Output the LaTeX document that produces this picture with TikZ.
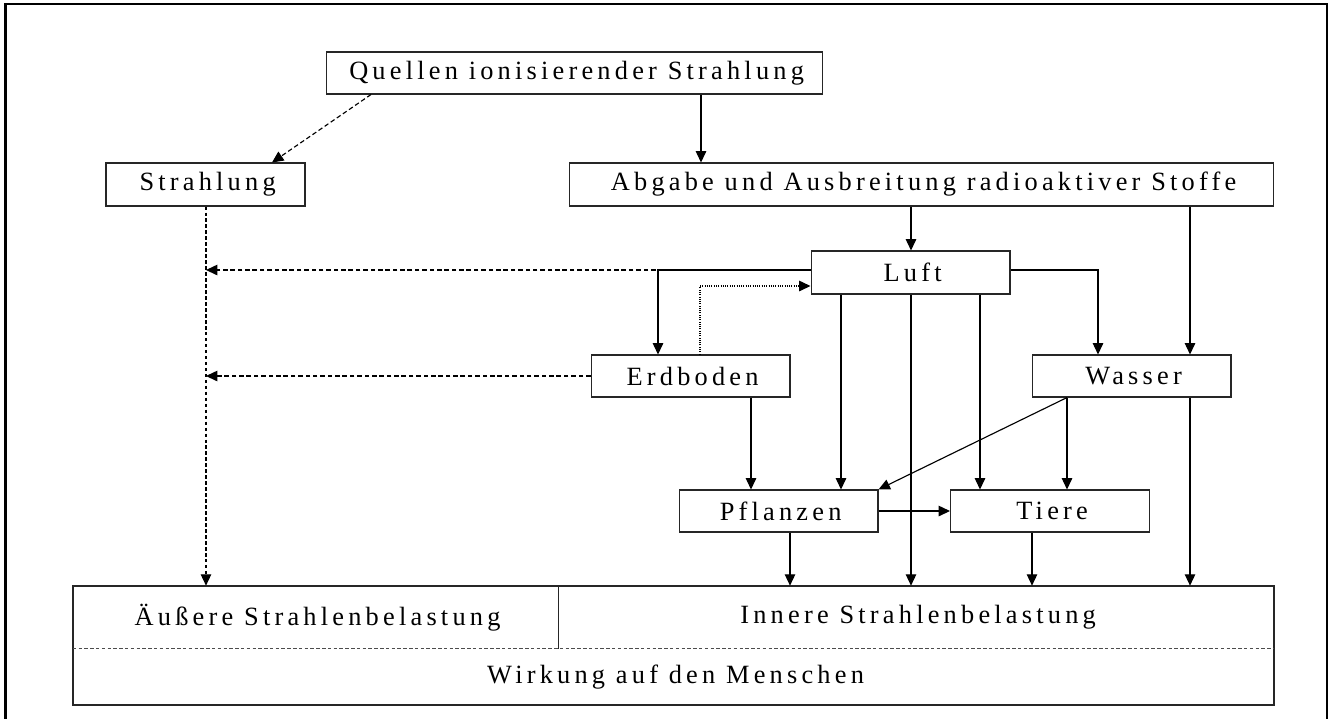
\documentclass[tikz,border=0pt]{standalone}
\usepackage{fontspec}
\setmainfont{Liberation Serif}[LetterSpace=16]
\usetikzlibrary{arrows.meta}
\newcommand{\ltx}[1]{#1\kern-0.16em}
\tikzset{
  box/.style={draw=black!85, line width=0.6pt, inner sep=0pt, minimum width=3.98cm, minimum height=0.86cm, font=\fontsize{15}{17}\selectfont},
  lbl/.style={inner sep=0pt, font=\fontsize{15}{17}\selectfont},
  arr/.style={-{Triangle[length=6.5pt,width=6pt]}, line width=0.65pt},
  dsh/.style={dash pattern=on 2.6pt off 1.6pt},
  dsh2/.style={dash pattern=on 2pt off 1.4pt},
  dotl/.style={dash pattern=on 0.5pt off 0.8pt},
}
\begin{document}
\begin{tikzpicture}[x=0.02cm,y=-0.02cm]
\useasboundingbox (0,0) rectangle (1331,718);
\fill[white] (0,0) rectangle (1331,718);
% outer frame
\draw[line width=1.2pt] (5.5,730) -- (5.5,4) -- (1327,4) -- (1327,730);

% boxes
\node[box, minimum width=9.94cm, minimum height=0.84cm] (q) at (574.5,73) {\ltx{Quellen ionisierender Strahlung}};
\node[box] (s) at (205.5,184.5) {\ltx{Strahlung}};
\node[box, minimum width=14.1cm] (ab) at (921.5,184.5) {\ltx{Abgabe und Ausbreitung radioaktiver Stoffe}};
\node[box] (l) at (910.5,272.5) {\ltx{Luft}};
\node[box, minimum height=0.84cm] (e) at (690.5,376) {\ltx{Erdboden}};
\node[box, minimum height=0.84cm] (w) at (1131.5,376) {\ltx{Wasser}};
\node[box, minimum height=0.84cm] (p) at (778.5,511) {\ltx{Pflanzen}};
\node[box, minimum height=0.84cm] (t) at (1050,511) {\ltx{Tiere}};

% bottom combined box
\coordinate (bnw) at (73,586);
\coordinate (bse) at (1274,705);
\node[inner sep=0pt, minimum width=9.7cm, minimum height=1.26cm] (aeus) at (315.5,617.5) {};
\node[inner sep=0pt, minimum width=14.32cm, minimum height=1.26cm] (inn) at (916,617.5) {};
\node[inner sep=0pt, minimum width=24.02cm, minimum height=1.12cm] (wirk) at (673.5,677) {};
\draw[draw=black!85, line width=0.6pt] (bnw) rectangle (bse);
\draw[draw=black!85, line width=0.6pt] (aeus.north east) -- (aeus.south east);
\draw[black!70, line width=0.5pt, dash pattern=on 2pt off 1.3pt] (wirk.north west) -- (wirk.north east);
\node[lbl] at (aeus.center) {\ltx{Äußere Strahlenbelastung}};
\node[lbl] at (inn.center) {\ltx{Innere Strahlenbelastung}};
\node[lbl] at (wirk.center) {\ltx{Wirkung auf den Menschen}};

% connectors
\draw[arr,dsh] (371,0 |- q.south) -- (272,0 |- s.north);
\draw[arr] (701,0 |- q.south) -- (701,0 |- ab.north);
\draw[arr,dsh2] (206,0 |- s.south) -- (206,0 |- aeus.north);

\draw[arr,dsh] (l.west |- 0,270) -- (206,270);
\draw[arr] (l.west |- 0,270) -| (658,0 |- e.north);
\draw[arr,dotl] (700,0 |- e.north) |- (l.west |- 0,286);
\draw[arr,dsh] (e.west) -- (206,0 |- e.west);

\draw[arr] (911,0 |- ab.south) -- (911,0 |- l.north);
\draw[arr] (1190,0 |- ab.south) -- (1190,0 |- w.north);
\draw[arr] (l.east |- 0,270) -| (1098,0 |- w.north);

\draw[arr] (841,0 |- l.south) -- (841,0 |- p.north);
\draw[arr] (911,0 |- l.south) -- (911,0 |- inn.north);
\draw[arr] (980,0 |- l.south) -- (980,0 |- t.north);

\draw[arr] (751,0 |- e.south) -- (751,0 |- p.north);
\draw[arr] (1067,0 |- w.south) -- (p.north east);
\draw[arr] (1067,0 |- w.south) -- (1067,0 |- t.north);
\draw[arr] (1190,0 |- w.south) -- (1190,0 |- inn.north);

\draw[arr] (p.east) -- (t.west);
\draw[arr] (790,0 |- p.south) -- (790,0 |- inn.north);
\draw[arr] (1032,0 |- t.south) -- (1032,0 |- inn.north);
\end{tikzpicture}
\end{document}
